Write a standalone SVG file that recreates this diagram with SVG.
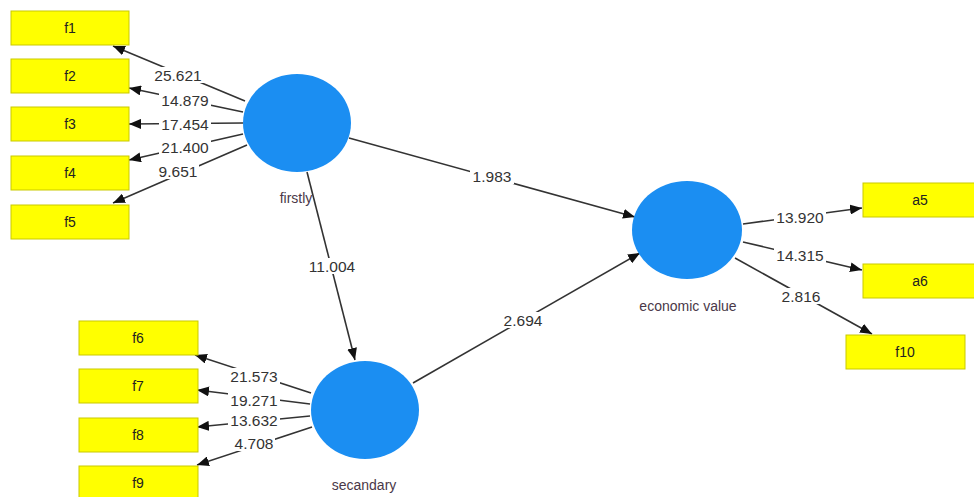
<svg xmlns="http://www.w3.org/2000/svg" width="974" height="497" viewBox="0 0 974 497">
<defs>
<marker id="ah" viewBox="0 0 12 10" refX="12" refY="5" markerWidth="12" markerHeight="10" markerUnits="userSpaceOnUse" orient="auto">
<path d="M0,0 L12,5 L0,10 Z" fill="#111"/>
</marker>
<style>
.box{fill:#ffff00;stroke:#c9c900;stroke-width:1}
.bt{font-family:"Liberation Sans",Arial,sans-serif;font-size:14px;fill:#222;text-anchor:middle;dominant-baseline:central}
.lv{fill:#1b8ef2}
.lt{font-family:"Liberation Sans",Arial,sans-serif;font-size:14px;fill:#4a3848;text-anchor:middle}
.c line{stroke:#333;stroke-width:1.6;marker-end:url(#ah)}
.bg{fill:#fff}
.w{font-family:"Liberation Sans",Arial,sans-serif;font-size:15.5px;fill:#333;text-anchor:middle;dominant-baseline:central}
</style>
</defs>
<rect width="974" height="497" fill="#fff"/>
<g class="c" id="connectors">
<line x1="245" y1="101" x2="113" y2="46"/>
<line x1="243" y1="112" x2="129" y2="88"/>
<line x1="243" y1="123" x2="129" y2="124"/>
<line x1="243" y1="134" x2="129" y2="160"/>
<line x1="247" y1="145" x2="113" y2="203"/>
<line x1="311" y1="393" x2="195" y2="355"/>
<line x1="310" y1="404" x2="197" y2="390"/>
<line x1="310" y1="416" x2="197" y2="427"/>
<line x1="312" y1="427" x2="197" y2="465"/>
<line x1="743" y1="224" x2="862" y2="208"/>
<line x1="743" y1="242" x2="862" y2="270"/>
<line x1="735" y1="258" x2="872" y2="334"/>
<line x1="349" y1="138" x2="635" y2="217"/>
<line x1="307" y1="172" x2="355" y2="360"/>
<line x1="413" y1="383" x2="640" y2="253"/>
</g>
<g id="edge-labels">
<rect class="bg" x="152" y="67" width="52" height="16"/><text class="w" x="178" y="75">25.621</text>
<rect class="bg" x="159" y="92" width="52" height="16"/><text class="w" x="185" y="100">14.879</text>
<rect class="bg" x="159" y="116" width="52" height="16"/><text class="w" x="185" y="124">17.454</text>
<rect class="bg" x="159" y="139" width="52" height="16"/><text class="w" x="185" y="147">21.400</text>
<rect class="bg" x="157" y="163" width="42" height="16"/><text class="w" x="178" y="171">9.651</text>
<rect class="bg" x="228" y="368" width="52" height="16"/><text class="w" x="254" y="376">21.573</text>
<rect class="bg" x="228" y="392" width="52" height="16"/><text class="w" x="254" y="400">19.271</text>
<rect class="bg" x="228" y="412" width="52" height="16"/><text class="w" x="254" y="420">13.632</text>
<rect class="bg" x="233" y="435" width="42" height="16"/><text class="w" x="254" y="443">4.708</text>
<rect class="bg" x="774" y="209" width="52" height="16"/><text class="w" x="800" y="217">13.920</text>
<rect class="bg" x="774" y="247" width="52" height="16"/><text class="w" x="800" y="255">14.315</text>
<rect class="bg" x="780" y="288" width="42" height="16"/><text class="w" x="801" y="296">2.816</text>
<rect class="bg" x="470" y="168" width="44" height="16"/><text class="w" x="492" y="176">1.983</text>
<rect class="bg" x="305" y="258" width="54" height="16"/><text class="w" x="332" y="266">11.004</text>
<rect class="bg" x="501" y="312" width="44" height="16"/><text class="w" x="523" y="320">2.694</text>
</g>
<g id="f1"><rect class="box" x="11" y="11" width="118" height="34"/><text class="bt" x="70" y="28">f1</text></g>
<g id="f2"><rect class="box" x="11" y="59" width="118" height="34"/><text class="bt" x="70" y="76">f2</text></g>
<g id="f3"><rect class="box" x="11" y="107" width="118" height="34"/><text class="bt" x="70" y="124">f3</text></g>
<g id="f4"><rect class="box" x="11" y="156" width="118" height="34"/><text class="bt" x="70" y="173">f4</text></g>
<g id="f5"><rect class="box" x="11" y="205" width="118" height="34"/><text class="bt" x="70" y="222">f5</text></g>
<g id="f6"><rect class="box" x="79" y="321" width="119" height="34"/><text class="bt" x="138" y="338">f6</text></g>
<g id="f7"><rect class="box" x="79" y="369" width="119" height="34"/><text class="bt" x="138" y="386">f7</text></g>
<g id="f8"><rect class="box" x="79" y="418" width="119" height="34"/><text class="bt" x="138" y="435">f8</text></g>
<g id="f9"><rect class="box" x="79" y="466" width="119" height="34"/><text class="bt" x="138" y="483">f9</text></g>
<g id="a5"><rect class="box" x="863" y="183" width="112" height="34"/><text class="bt" x="920" y="200">a5</text></g>
<g id="a6"><rect class="box" x="863" y="264" width="112" height="34"/><text class="bt" x="920" y="281">a6</text></g>
<g id="f10"><rect class="box" x="846" y="335" width="119" height="34"/><text class="bt" x="905" y="352">f10</text></g>
<g id="firstly"><ellipse class="lv" cx="297" cy="123" rx="54" ry="49"/><text class="lt" x="296" y="203">firstly</text></g>
<g id="secandary"><ellipse class="lv" cx="365" cy="410" rx="54" ry="49"/><text class="lt" x="364" y="490">secandary</text></g>
<g id="economic-value"><ellipse class="lv" cx="687" cy="230" rx="55" ry="49"/><text class="lt" x="688" y="311">economic value</text></g>
</svg>
